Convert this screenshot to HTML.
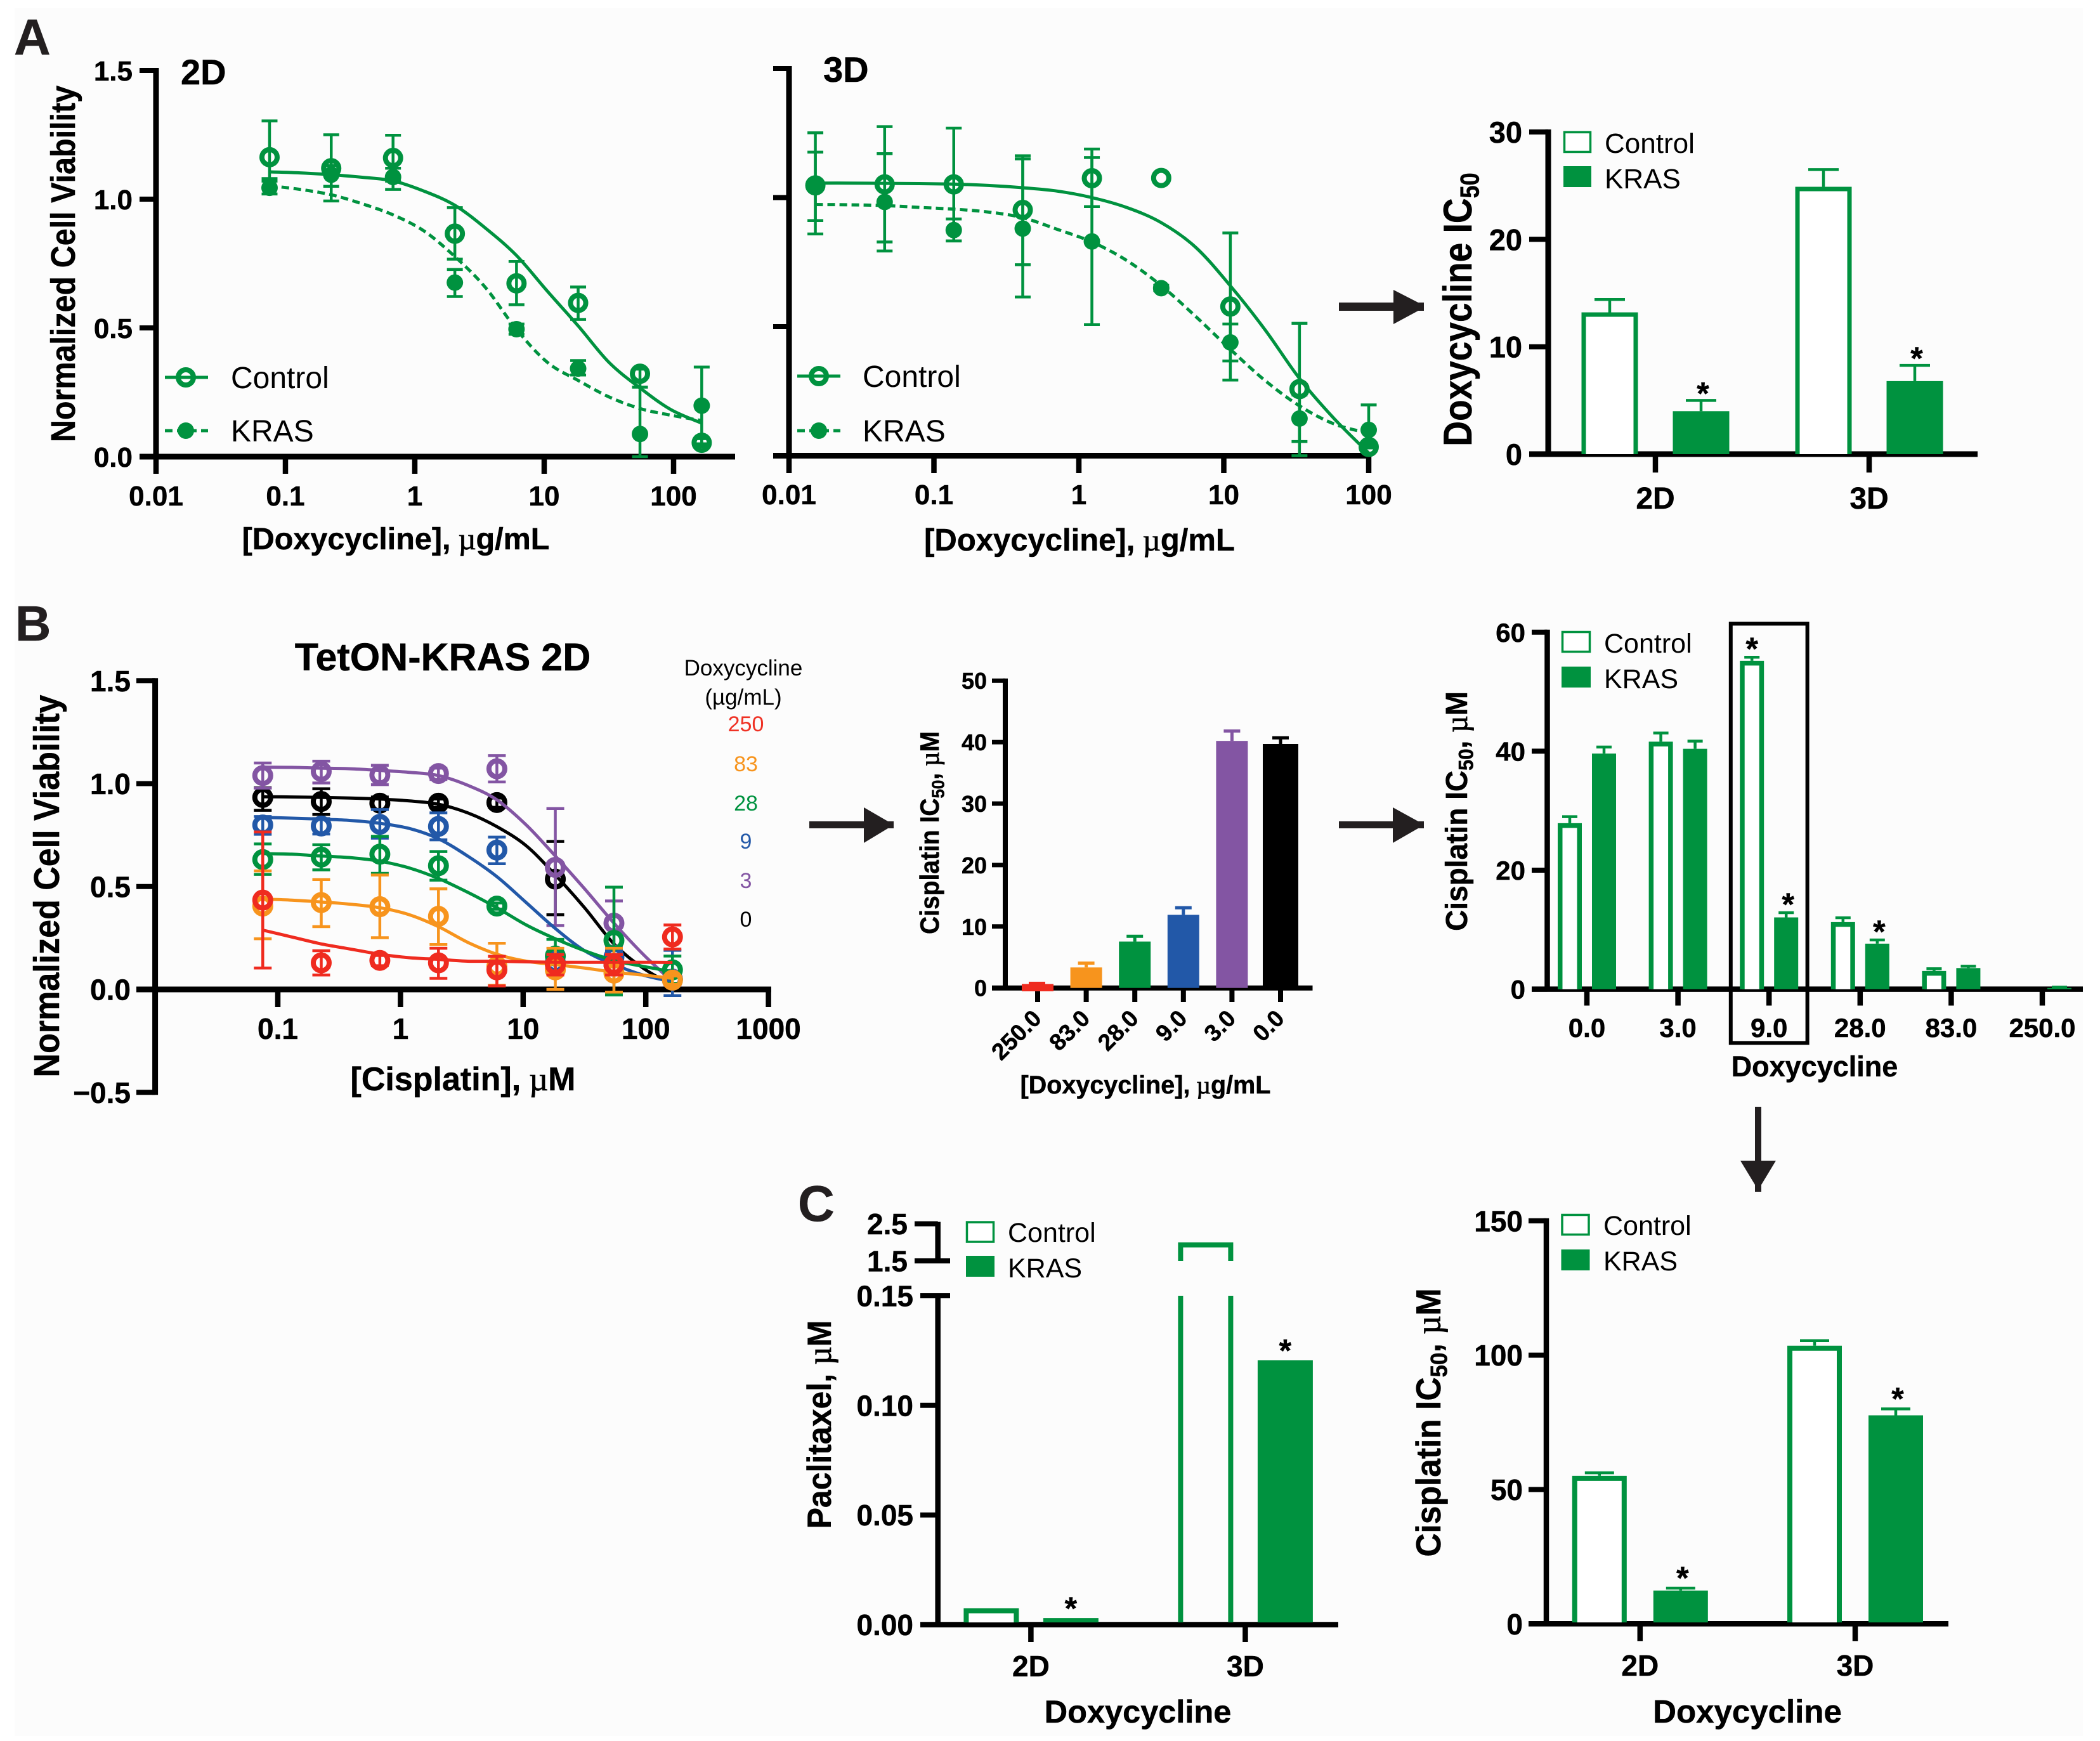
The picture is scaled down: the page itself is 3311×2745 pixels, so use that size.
<!DOCTYPE html>
<html lang="en">
<head>
<meta charset="utf-8">
<title>Doxycycline and cisplatin response figure</title>
<style>
html,body{margin:0;padding:0;background:#fff;}
svg{display:block;}
text{font-family:"Liberation Sans",sans-serif;fill:#000;}
.b{font-weight:bold;stroke:#000;stroke-width:.5px;}
.mu{font-family:"Liberation Serif",serif;font-weight:normal;stroke-width:.8px;}
</style>
</head>
<body>
<svg id="figure" xmlns="http://www.w3.org/2000/svg" width="3311" height="2745" viewBox="0 0 3311 2745">
<rect x="23" y="13" width="3261" height="2724" fill="#fcfcfc"/>

<!-- panel letters -->
<text class="b" x="22" y="86" font-size="80" style="fill:#231f20;stroke:#231f20">A</text>
<text class="b" x="24" y="1010" font-size="78" style="fill:#231f20;stroke:#231f20">B</text>
<text class="b" x="1258" y="1925" font-size="80" style="fill:#231f20;stroke:#231f20">C</text>

<!-- panel A 2D static text -->
<text class="b" x="285" y="133" font-size="56">2D</text>
<text class="b" transform="translate(118,416) rotate(-90) scale(1,1.1)" text-anchor="middle" font-size="48.5">Normalized Cell Viability</text>
<text class="b" x="624" y="866" text-anchor="middle" font-size="48.5">[Doxycycline],<tspan class="mu"> µ</tspan>g/mL</text>
<g>
  <line x1="260" x2="328" y1="595" y2="595" stroke="#00923f" stroke-width="5"/>
  <circle cx="293" cy="595" r="12" fill="none" stroke="#00923f" stroke-width="8"/>
  <text x="364" y="612" font-size="48">Control</text>
  <line x1="260" x2="328" y1="679" y2="679" stroke="#00923f" stroke-width="5" stroke-dasharray="12 7"/>
  <circle cx="293" cy="679" r="13" fill="#00923f"/>
  <text x="364" y="696" font-size="48">KRAS</text>
</g>

<!-- panel A 3D static text -->
<text class="b" x="1298" y="129" font-size="56">3D</text>
<text class="b" x="1702" y="868" text-anchor="middle" font-size="49">[Doxycycline],<tspan class="mu"> µ</tspan>g/mL</text>
<g>
  <line x1="1257" x2="1325" y1="593" y2="593" stroke="#00923f" stroke-width="5"/>
  <circle cx="1291" cy="593" r="12" fill="none" stroke="#00923f" stroke-width="8"/>
  <text x="1360" y="610" font-size="48">Control</text>
  <line x1="1257" x2="1325" y1="679" y2="679" stroke="#00923f" stroke-width="5" stroke-dasharray="12 7"/>
  <circle cx="1291" cy="679" r="13" fill="#00923f"/>
  <text x="1360" y="696" font-size="48">KRAS</text>
</g>

<!-- panel A bar static text -->
<text class="b" transform="translate(2320,488) rotate(-90) scale(1,1.15)" text-anchor="middle" font-size="55">Doxycycline IC<tspan font-size="36" dy="10">50</tspan></text>
<g>
  <rect x="2466.5" y="208.5" width="41" height="31" fill="#fff" stroke="#00923f" stroke-width="3.5"/>
  <text x="2530" y="241" font-size="44">Control</text>
  <rect x="2465" y="262" width="44" height="33" fill="#00923f"/>
  <text x="2530" y="297" font-size="44">KRAS</text>
</g>

<!-- panel B curve static text -->
<text class="b" x="698" y="1057" text-anchor="middle" font-size="61">TetON-KRAS 2D</text>
<text class="b" transform="translate(93,1397) rotate(-90) scale(1,1.08)" text-anchor="middle" font-size="52">Normalized Cell Viability</text>
<text class="b" x="730" y="1719" text-anchor="middle" font-size="52">[Cisplatin],<tspan class="mu"> µ</tspan>M</text>
<g>
  <text x="1172" y="1065" text-anchor="middle" font-size="35">Doxycycline</text>
  <text x="1172" y="1111" text-anchor="middle" font-size="35">(µg/mL)</text>
  <text x="1176" y="1153" text-anchor="middle" font-size="34" style="fill:#ef3124">250</text>
  <text x="1176" y="1216" text-anchor="middle" font-size="34" style="fill:#f7941d">83</text>
  <text x="1176" y="1278" text-anchor="middle" font-size="34" style="fill:#00923f">28</text>
  <text x="1176" y="1338" text-anchor="middle" font-size="34" style="fill:#2258a8">9</text>
  <text x="1176" y="1400" text-anchor="middle" font-size="34" style="fill:#8355a3">3</text>
  <text x="1176" y="1461" text-anchor="middle" font-size="34">0</text>
</g>

<!-- panel B middle bar static text -->
<text class="b" transform="translate(1480,1313) rotate(-90) scale(1,1.08)" text-anchor="middle" font-size="39">Cisplatin IC<tspan font-size="26" dy="8">50</tspan><tspan dy="-8">, </tspan><tspan class="mu">µ</tspan>M</text>
<text class="b" x="1806" y="1724" text-anchor="middle" font-size="39.5">[Doxycycline],<tspan class="mu"> µ</tspan>g/mL</text>

<!-- panel B right bar static text -->
<text class="b" transform="translate(2313,1279) rotate(-90) scale(1,1.05)" text-anchor="middle" font-size="46">Cisplatin IC<tspan font-size="31" dy="9">50</tspan><tspan dy="-9">, </tspan><tspan class="mu">µ</tspan>M</text>
<text class="b" x="2861" y="1697" text-anchor="middle" font-size="45">Doxycycline</text>
<g>
  <rect x="2463.5" y="996.5" width="43" height="31" fill="#fff" stroke="#00923f" stroke-width="3.5"/>
  <text x="2529" y="1029" font-size="43">Control</text>
  <rect x="2462" y="1051" width="46" height="33" fill="#00923f"/>
  <text x="2529" y="1085" font-size="43">KRAS</text>
</g>
<rect x="2728.8" y="983.4" width="120.8" height="661" fill="none" stroke="#000" stroke-width="6"/>

<!-- panel C paclitaxel static text -->
<text class="b" transform="translate(1310,2246) rotate(-90) scale(1,1.05)" text-anchor="middle" font-size="50">Paclitaxel, <tspan class="mu">µ</tspan>M</text>
<text class="b" x="1794" y="2716" text-anchor="middle" font-size="50.5">Doxycycline</text>
<g>
  <rect x="1524.5" y="1927" width="42" height="31" fill="#fff" stroke="#00923f" stroke-width="3.5"/>
  <text x="1589" y="1958" font-size="43">Control</text>
  <rect x="1523" y="1980" width="45" height="33" fill="#00923f"/>
  <text x="1589" y="2014" font-size="43">KRAS</text>
</g>

<!-- panel C cisplatin static text -->
<text class="b" transform="translate(2271,2243) rotate(-90) scale(1,1.06)" text-anchor="middle" font-size="51.5">Cisplatin IC<tspan font-size="35" dy="10">50</tspan><tspan dy="-10">, </tspan><tspan class="mu">µ</tspan>M</text>
<text class="b" x="2755" y="2716" text-anchor="middle" font-size="51">Doxycycline</text>
<g>
  <rect x="2463" y="1915.5" width="42" height="31" fill="#fff" stroke="#00923f" stroke-width="3.5"/>
  <text x="2528" y="1947" font-size="43">Control</text>
  <rect x="2461.5" y="1970" width="45" height="33" fill="#00923f"/>
  <text x="2528" y="2003" font-size="43">KRAS</text>
</g>

<!-- flow arrows -->
<g><polygon points="2111,477 2197,477 2197,457 2236,477 2245,477 2245,490 2236,490 2197,511 2197,490 2111,490" fill="#231f20"/></g>
<g><polygon points="1276,1295 1362,1295 1362,1273 1400,1295 1409,1295 1409,1306 1400,1306 1362,1329 1362,1306 1276,1306" fill="#231f20"/></g>
<g><polygon points="2111,1295 2196,1295 2196,1273 2236,1295 2245,1295 2245,1306 2236,1306 2196,1329 2196,1306 2111,1306" fill="#231f20"/></g>
<g><polygon points="2767,1745 2777,1745 2777,1830 2800,1830 2777,1868 2777,1879 2767,1879 2767,1868 2744,1830 2767,1830" fill="#231f20"/></g>

<g id="charts"></g>
</svg>

<script>
/* ---------- Panel A, 2D ---------- */
const a2dDoses = [0.0754, 0.226, 0.679, 2.04, 6.11, 18.3, 55, 165];
const a2dControl = [1.163, 1.12, 1.16, 0.866, 0.673, 0.597, 0.322, 0.054];
const a2dControlHi = [1.304, 1.25, 1.248, 0.967, 0.758, 0.659, 0.34, 0.07];
const a2dControlLo = [1.08, 0.993, 1.07, 0.767, 0.59, 0.533, 0.27, 0.04];
const a2dKras = [1.044, 1.095, 1.086, 0.676, 0.495, 0.342, 0.088, 0.198];
const a2dKrasHi = [1.07, 1.13, 1.12, 0.727, 0.515, 0.373, 0.27, 0.348];
const a2dKrasLo = [1.02, 1.05, 1.038, 0.622, 0.475, 0.317, 0, 0.05];
const a2dCurveDoses = [0.0754, 0.13, 0.226, 0.392, 0.679, 1.18, 2.04, 3.53, 6.11, 10.6, 18.3, 31.7, 55, 95, 165];
const a2dControlCurve = [1.106, 1.102, 1.095, 1.085, 1.071, 1.031, 0.976, 0.887, 0.781, 0.642, 0.508, 0.366, 0.267, 0.183, 0.13];
const a2dKrasCurve = [1.052, 1.038, 1.017, 0.982, 0.939, 0.876, 0.777, 0.656, 0.494, 0.366, 0.296, 0.232, 0.187, 0.161, 0.14];
const a2dYTicks = [0, 0.5, 1, 1.5];
const a2dYLabels = ['0.0', '0.5', '1.0', '1.5'];
const a2dXTicks = [0.01, 0.1, 1, 10, 100];
const a2dXLabels = ['0.01', '0.1', '1', '10', '100'];

/* ---------- Panel A, 3D ---------- */
const a3dDoses = [0.0152, 0.0457, 0.137, 0.41, 1.23, 3.7, 11.1, 33.3, 100];
const a3dControl = [1.047, 1.051, 1.051, 0.952, 1.075, 1.076, 0.578, 0.258, 0.034];
const a3dControlHi = [1.251, 1.275, 1.269, 1.162, 1.188, 1.076, 0.863, 0.513, 0.04];
const a3dControlLo = [0.859, 0.828, 0.832, 0.74, 0.965, 1.076, 0.293, 0, 0.03];
const a3dKras = [1.044, 0.983, 0.874, 0.88, 0.83, 0.649, 0.439, 0.144, 0.1];
const a3dKrasHi = [1.176, 1.17, 0.917, 1.15, 1.155, 0.66, 0.51, 0.235, 0.197];
const a3dKrasLo = [0.911, 0.793, 0.832, 0.615, 0.508, 0.64, 0.367, 0.055, 0.05];
const a3dCurveDoses = [0.0152, 0.0263, 0.0457, 0.0791, 0.137, 0.237, 0.41, 0.71, 1.23, 2.13, 3.7, 6.41, 11.1, 19.2, 33.3, 57.7, 100];
const a3dControlCurve = [1.056, 1.056, 1.055, 1.054, 1.052, 1.047, 1.038, 1.025, 1, 0.962, 0.903, 0.807, 0.658, 0.489, 0.299, 0.144, 0.01];
const a3dKrasCurve = [0.973, 0.972, 0.969, 0.962, 0.955, 0.944, 0.922, 0.877, 0.828, 0.757, 0.659, 0.539, 0.412, 0.292, 0.193, 0.123, 0.087];
const a3dYTicks = [0, 0.5, 1, 1.5];
const a3dXTicks = [0.01, 0.1, 1, 10, 100];
const a3dXLabels = ['0.01', '0.1', '1', '10', '100'];

/* ---------- Panel A, IC50 bars ---------- */
const aBarCategories = ['2D', '3D'];
const aBarControl = [13.2, 24.9];
const aBarControlErr = [14.4, 26.5];
const aBarKras = [4.0, 6.8];
const aBarKrasErr = [5.0, 8.26];
const aBarStars = [true, true];
const aBarYTicks = [0, 10, 20, 30];

/* ---------- Panel B, cisplatin curves ---------- */
const bDoses = [0.0754, 0.226, 0.679, 2.04, 6.11, 18.3, 55, 165];
const bCurveDoses = [0.0754, 0.13, 0.226, 0.392, 0.679, 1.18, 2.04, 3.53, 6.11, 10.6, 18.3, 31.7, 55, 95, 165];
const bDox0 = [0.933, 0.913, 0.905, 0.905, 0.908, 0.536, 0.12, 0.05];
const bDox0Hi = [0.98, 0.975, 0.935, 0.925, 0.93, 0.719, 0.16, 0.07];
const bDox0Lo = [0.87, 0.85, 0.875, 0.885, 0.885, 0.363, 0.08, 0.03];
const bDox0Curve = [0.936, 0.935, 0.933, 0.93, 0.925, 0.916, 0.9, 0.858, 0.791, 0.698, 0.556, 0.397, 0.221, 0.104, 0.02];
const bDox3 = [1.039, 1.059, 1.042, 1.049, 1.072, 0.593, 0.322, 0.05];
const bDox3Hi = [1.1, 1.109, 1.089, 1.075, 1.136, 0.879, 0.43, 0.08];
const bDox3Lo = [0.978, 1.003, 0.995, 1.02, 1.008, 0.31, 0.21, 0.02];
const bDox3Curve = [1.08, 1.079, 1.075, 1.072, 1.064, 1.055, 1.039, 0.992, 0.921, 0.799, 0.648, 0.489, 0.322, 0.171, 0.037];
const bDox9 = [0.799, 0.794, 0.802, 0.792, 0.677, 0.13, 0.157, 0.045];
const bDox9Hi = [0.84, 0.83, 0.874, 0.858, 0.74, 0.18, 0.19, 0.19];
const bDox9Lo = [0.754, 0.755, 0.735, 0.727, 0.611, 0.08, 0.12, -0.03];
const bDox9Curve = [0.836, 0.832, 0.827, 0.821, 0.807, 0.782, 0.732, 0.648, 0.548, 0.422, 0.296, 0.188, 0.121, 0.07, 0.037];
const bDox28 = [0.631, 0.643, 0.657, 0.601, 0.405, 0.162, 0.238, 0.095];
const bDox28Hi = [0.707, 0.703, 0.744, 0.67, 0.42, 0.243, 0.497, 0.162];
const bDox28Lo = [0.559, 0.581, 0.564, 0.531, 0.39, 0.087, -0.027, 0.03];
const bDox28Curve = [0.66, 0.657, 0.648, 0.64, 0.623, 0.59, 0.539, 0.472, 0.397, 0.313, 0.246, 0.188, 0.141, 0.112, 0.087];
const bDox83 = [0.405, 0.422, 0.402, 0.355, 0.112, 0.095, 0.079, 0.045];
const bDox83Hi = [0.576, 0.534, 0.556, 0.489, 0.224, 0.2, 0.2, 0.065];
const bDox83Lo = [0.246, 0.305, 0.251, 0.218, 0.02, 0, -0.013, 0.025];
const bDox83Curve = [0.439, 0.434, 0.425, 0.414, 0.397, 0.363, 0.305, 0.229, 0.171, 0.137, 0.121, 0.104, 0.084, 0.07, 0.054];
const bDox250 = [0.434, 0.129, 0.141, 0.129, 0.095, 0.121, 0.121, 0.255];
const bDox250Hi = [0.765, 0.188, 0.165, 0.2, 0.161, 0.17, 0.17, 0.313];
const bDox250Lo = [0.104, 0.07, 0.115, 0.054, 0.017, 0.07, 0.07, 0.196];
const bDox250Curve = [0.288, 0.255, 0.221, 0.196, 0.171, 0.154, 0.146, 0.137, 0.137, 0.134, 0.132, 0.132, 0.132, 0.132, 0.131];
const bYTicks = [-0.5, 0, 0.5, 1, 1.5];
const bYLabels = ['\u22120.5', '0.0', '0.5', '1.0', '1.5'];
const bXTicks = [0.1, 1, 10, 100, 1000];
const bXLabels = ['0.1', '1', '10', '100', '1000'];

/* ---------- Panel B, middle bars ---------- */
const bMidCategories = ['250.0', '83.0', '28.0', '9.0', '3.0', '0.0'];
const bMidValues = [0.65, 3.34, 7.55, 11.9, 40.2, 39.7];
const bMidErr = [0.75, 4.05, 8.4, 13.05, 41.8, 40.7];
const bMidYTicks = [0, 10, 20, 30, 40, 50];

/* ---------- Panel B, right bars ---------- */
const bRightCategories = ['0.0', '3.0', '9.0', '28.0', '83.0', '250.0'];
const bRightControl = [27.9, 41.6, 55.2, 11.27, 3.06, 0];
const bRightControlErr = [29.0, 43.05, 55.8, 12.0, 3.43, 0];
const bRightKras = [39.6, 40.4, 12.06, 7.65, 3.55, 0.2];
const bRightKrasErr = [40.7, 41.7, 12.86, 8.27, 3.86, 0.35];
const bRightControlStars = [false, false, true, false, false, false];
const bRightKrasStars = [false, false, true, true, false, false];
const bRightYTicks = [0, 20, 40, 60];

/* ---------- Panel C, paclitaxel bars (broken axis) ---------- */
const cPacCategories = ['2D', '3D'];
const cPacControl = [0.0075, 2.0];
const cPacKras = [0.003, 0.1206];
const cPacStars = [true, true];
const cPacLowerTicks = [0, 0.05, 0.1, 0.15];
const cPacLowerLabels = ['0.00', '0.05', '0.10', '0.15'];
const cPacUpperTicks = [1.5, 2.5];
const cPacUpperLabels = ['1.5', '2.5'];

/* ---------- Panel C, cisplatin bars ---------- */
const cCisCategories = ['2D', '3D'];
const cCisControl = [55.1, 103.5];
const cCisControlErr = [56.2, 105.4];
const cCisKras = [12.4, 77.6];
const cCisKrasErr = [13.3, 80];
const cCisStars = [true, true];
const cCisYTicks = [0, 50, 100, 150];

/* ---------- helpers ---------- */
const SVGNS = 'http://www.w3.org/2000/svg';
const GREEN = '#00923f';
const root = document.getElementById('charts');

function mk(tag, parent, props) {
  const el = document.createElementNS(SVGNS, tag);
  for (const k in props) el.setAttribute(k, props[k]);
  parent.appendChild(el);
  return el;
}
function logScale(x0, logStart, decade) {
  return function (d) { return x0 + (Math.log10(d) - logStart) * decade; };
}
function linScale(y0, k) {
  return function (v) { return y0 - v * k; };
}
function smoothPath(px, py) {
  let d = 'M' + px[0].toFixed(1) + ',' + py[0].toFixed(1);
  for (let i = 0; i < px.length - 1; i++) {
    const a = Math.max(i - 1, 0), b = Math.min(i + 2, px.length - 1);
    const c1x = px[i] + (px[i + 1] - px[a]) / 6, c1y = py[i] + (py[i + 1] - py[a]) / 6;
    const c2x = px[i + 1] - (px[b] - px[i]) / 6, c2y = py[i + 1] - (py[b] - py[i]) / 6;
    d += 'C' + c1x.toFixed(1) + ',' + c1y.toFixed(1) + ' ' + c2x.toFixed(1) + ',' + c2y.toFixed(1) + ' ' + px[i + 1].toFixed(1) + ',' + py[i + 1].toFixed(1);
  }
  return d;
}
function group(name) {
  const g = mk('g', root, {});
  
  
  return g;
}
function axisLine(g, name, x1, y1, x2, y2, sw) {
  const l = mk('line', g, { x1: x1, y1: y1, x2: x2, y2: y2, stroke: '#000', 'stroke-width': sw });
  
  
  return l;
}
function label(g, name, x, y, str, size, anchor) {
  const t = mk('text', g, { x: x, y: y, 'font-size': size, 'text-anchor': anchor, 'class': 'b' });
  t.textContent = str;
  
  
  return t;
}
function yAxis(g, prefix, axisX, yf, ticks, labels, tickLeft, labelRight, size, sw) {
  for (let i = 0; i < ticks.length; i++) {
    const y = yf(ticks[i]);
    axisLine(g, prefix + '-y-tick-' + i, tickLeft, y, axisX, y, sw);
    if (labels) label(g, prefix + '-y-tick-label-' + i, labelRight, y + size * 0.36, labels[i], size, 'end');
  }
}
function xTicksLog(g, prefix, xf, ticks, labels, y0, tickBottom, baseline, size, sw) {
  for (let i = 0; i < ticks.length; i++) {
    const x = xf(ticks[i]);
    axisLine(g, prefix + '-x-tick-' + i, x, y0, x, tickBottom, sw);
    label(g, prefix + '-x-tick-label-' + i, x, baseline, labels[i], size, 'middle');
  }
}
function drawSeries(g, prefix, doses, vals, hi, lo, curveDoses, curve, xf, yf, color, filled, dashed, r, mw, cap) {
  const d = smoothPath(curveDoses.map(xf), curve.map(yf));
  const props = { d: d, fill: 'none', stroke: color, 'stroke-width': 5 };
  if (dashed) props['stroke-dasharray'] = '12 7';
  const path = mk('path', g, props);
  
  
  for (let i = 0; i < doses.length; i++) {
    const x = xf(doses[i]);
    if (hi[i] - lo[i] > 0.001) {
      const stem = mk('line', g, { x1: x, x2: x, y1: yf(hi[i]), y2: yf(lo[i]), stroke: color, 'stroke-width': 4.5 });
      
      
      const capTop = mk('line', g, { x1: x - cap / 2, x2: x + cap / 2, y1: yf(hi[i]), y2: yf(hi[i]), stroke: color, 'stroke-width': 4.5 });
      
      
      const capBot = mk('line', g, { x1: x - cap / 2, x2: x + cap / 2, y1: yf(lo[i]), y2: yf(lo[i]), stroke: color, 'stroke-width': 4.5 });
      
      
    }
  }
  for (let i = 0; i < doses.length; i++) {
    const m = mk('circle', g, filled
      ? { cx: xf(doses[i]), cy: yf(vals[i]), r: r, fill: color }
      : { cx: xf(doses[i]), cy: yf(vals[i]), r: r, fill: 'none', stroke: color, 'stroke-width': mw });
    
    
  }
}
function drawBar(g, name, left, width, y0, yTop, color, open, sw) {
  if (open) {
    const p = mk('path', g, {
      d: 'M' + (left + sw / 2) + ',' + y0 + 'V' + (yTop + sw / 2) + 'H' + (left + width - sw / 2) + 'V' + y0,
      fill: '#fff', stroke: color, 'stroke-width': sw
    });
    
    
  } else {
    const r = mk('rect', g, { x: left, y: yTop, width: width, height: Math.max(y0 - yTop, 0), fill: color });
    
    
  }
}
function drawErr(g, name, cx, yTop, yErr, cap, color, sw) {
  const s = mk('line', g, { x1: cx, x2: cx, y1: yTop, y2: yErr, stroke: color, 'stroke-width': sw });
  
  
  const c = mk('line', g, { x1: cx - cap / 2, x2: cx + cap / 2, y1: yErr, y2: yErr, stroke: color, 'stroke-width': sw });
  
  
}
function star(g, name, cx, yCenter) {
  const t = mk('text', g, { x: cx, y: yCenter + 24, 'font-size': 50, 'text-anchor': 'middle', 'class': 'b' });
  t.textContent = '*';
  
  
}

/* ---------- Panel A 2D ---------- */
(function () {
  const g = group('a2d-chart');
  const xf = logScale(246, -2, 204);
  const yf = linScale(720, 406);
  axisLine(g, 'a2d-y-axis', 246, yf(1.5) - 4, 246, 724, 9);
  axisLine(g, 'a2d-x-axis', 220, 720, 1159, 720, 9);
  yAxis(g, 'a2d', 246, yf, a2dYTicks, a2dYLabels, 220, 209, 44, 8);
  xTicksLog(g, 'a2d', xf, a2dXTicks, a2dXLabels, 720, 747, 797, 44, 8.5);
  drawSeries(g, 'a2d-control', a2dDoses, a2dControl, a2dControlHi, a2dControlLo, a2dCurveDoses, a2dControlCurve, xf, yf, GREEN, false, false, 12, 8, 25);
  drawSeries(g, 'a2d-kras', a2dDoses, a2dKras, a2dKrasHi, a2dKrasLo, a2dCurveDoses, a2dKrasCurve, xf, yf, GREEN, true, true, 13, 0, 25);
})();

/* ---------- Panel A 3D ---------- */
(function () {
  const g = group('a3d-chart');
  const xf = logScale(1244, -2, 228.5);
  const yf = linScale(718.5, 407);
  axisLine(g, 'a3d-y-axis', 1244, yf(1.5) - 4, 1244, 722, 9);
  axisLine(g, 'a3d-x-axis', 1219, 718.5, 2162, 718.5, 9);
  yAxis(g, 'a3d', 1244, yf, a3dYTicks, null, 1219, 0, 44, 8);
  xTicksLog(g, 'a3d', xf, a3dXTicks, a3dXLabels, 718.5, 746, 795, 44, 8.5);
  drawSeries(g, 'a3d-control', a3dDoses, a3dControl, a3dControlHi, a3dControlLo, a3dCurveDoses, a3dControlCurve, xf, yf, GREEN, false, false, 12, 8, 25);
  drawSeries(g, 'a3d-kras', a3dDoses, a3dKras, a3dKrasHi, a3dKrasLo, a3dCurveDoses, a3dKrasCurve, xf, yf, GREEN, true, true, 13, 0, 25);
})();

/* ---------- Paired bar chart used by three panels ---------- */
function pairedBars(cfg, categories, control, controlErr, kras, krasErr, controlStars, krasStars) {
  const g = cfg.g;
  for (let i = 0; i < categories.length; i++) {
    const cx = cfg.first + i * cfg.step;
    const x = cx;
    axisLine(g, cfg.prefix + '-x-tick-' + i, x, cfg.y0, x, cfg.tickBottom, 8.5);
    label(g, cfg.prefix + '-x-tick-label-' + i, x, cfg.labelBaseline, categories[i], cfg.labelSize, 'middle');
    const cCenter = cx - cfg.offset, kCenter = cx + cfg.offset;
    if (control[i] > 0) {
      drawErr(g, cfg.prefix + '-control-error-' + i, cCenter, cfg.yf(control[i]), cfg.yf(controlErr[i]), cfg.cap, GREEN, 4.5);
      drawBar(g, cfg.prefix + '-control-bar-' + categories[i], cCenter - cfg.width / 2, cfg.width, cfg.y0, cfg.yf(control[i]), GREEN, true, cfg.sw);
    }
    drawErr(g, cfg.prefix + '-kras-error-' + i, kCenter, cfg.yf(kras[i]), cfg.yf(krasErr[i]), cfg.cap, GREEN, 4.5);
    drawBar(g, cfg.prefix + '-kras-bar-' + categories[i], kCenter - cfg.width / 2, cfg.width, cfg.y0, cfg.yf(kras[i]), GREEN, false, 0);
    if (controlStars && controlStars[i]) star(g, cfg.prefix + '-control-star-' + i, cCenter, cfg.yf(controlErr[i]) - cfg.starGap);
    if (krasStars && krasStars[i]) star(g, cfg.prefix + '-kras-star-' + i, kCenter + 3, cfg.yf(krasErr[i]) - cfg.starGap);
  }
}

/* ---------- Panel A bars ---------- */
(function () {
  const g = group('a-bar-chart');
  const yf = linScale(716, 16.93);
  axisLine(g, 'a-bar-y-axis', 2441, yf(30) - 4, 2441, 720, 9);
  axisLine(g, 'a-bar-x-axis', 2411, 716, 3118, 716, 9);
  yAxis(g, 'a-bar', 2441, yf, aBarYTicks, aBarYTicks.map(String), 2411, 2400, 47, 8);
  pairedBars({ g: g, prefix: 'a-bar', first: 2610, step: 337, y0: 716, yf: yf, tickBottom: 745, labelBaseline: 802, labelSize: 48, offset: 72, width: 89, sw: 7, cap: 48, starGap: 18 },
    aBarCategories, aBarControl, aBarControlErr, aBarKras, aBarKrasErr, null, aBarStars);
})();

/* ---------- Panel B curves ---------- */
(function () {
  const g = group('b-curve-chart');
  const xf = logScale(244.6, -2, 193.4);
  const yf = linScale(1560, 324.5);
  axisLine(g, 'b-curve-y-axis', 244.6, yf(1.5) - 4, 244.6, yf(-0.5) + 4, 9);
  axisLine(g, 'b-curve-x-axis', 215, 1560, 1216, 1560, 9);
  yAxis(g, 'b-curve', 244.6, yf, bYTicks, bYLabels, 215, 206, 46, 8);
  xTicksLog(g, 'b-curve', xf, bXTicks, bXLabels, 1560, 1588, 1638, 46, 8.5);
  drawSeries(g, 'b-dox-0', bDoses, bDox0, bDox0Hi, bDox0Lo, bCurveDoses, bDox0Curve, xf, yf, '#000', false, false, 12.5, 8, 28);
  drawSeries(g, 'b-dox-3', bDoses, bDox3, bDox3Hi, bDox3Lo, bCurveDoses, bDox3Curve, xf, yf, '#8355a3', false, false, 12.5, 8, 28);
  drawSeries(g, 'b-dox-9', bDoses, bDox9, bDox9Hi, bDox9Lo, bCurveDoses, bDox9Curve, xf, yf, '#2258a8', false, false, 12.5, 8, 28);
  drawSeries(g, 'b-dox-28', bDoses, bDox28, bDox28Hi, bDox28Lo, bCurveDoses, bDox28Curve, xf, yf, GREEN, false, false, 12.5, 8, 28);
  drawSeries(g, 'b-dox-83', bDoses, bDox83, bDox83Hi, bDox83Lo, bCurveDoses, bDox83Curve, xf, yf, '#f7941d', false, false, 12.5, 8, 28);
  drawSeries(g, 'b-dox-250', bDoses, bDox250, bDox250Hi, bDox250Lo, bCurveDoses, bDox250Curve, xf, yf, '#ef2b1f', false, false, 12.5, 8, 28);
})();

/* ---------- Panel B middle bars ---------- */
(function () {
  const g = group('b-mid-chart');
  const colors = ['#ef2b1f', '#f7941d', GREEN, '#2258a8', '#8355a3', '#000'];
  const yf = linScale(1557.7, 9.69);
  axisLine(g, 'b-mid-y-axis', 1585, yf(50) - 3.5, 1585, 1561, 8);
  axisLine(g, 'b-mid-x-axis', 1564, 1557.7, 2069.5, 1557.7, 8);
  yAxis(g, 'b-mid', 1585, yf, bMidYTicks, bMidYTicks.map(String), 1564, 1556, 36, 7);
  for (let i = 0; i < bMidCategories.length; i++) {
    const cx = 1636 + i * 76.6;
    axisLine(g, 'b-mid-x-tick-' + i, cx, 1557.7, cx, 1580, 8);
    const t = label(g, 'b-mid-x-tick-label-' + bMidCategories[i], 0, 0, bMidCategories[i], 37, 'end');
    t.setAttribute('transform', 'translate(' + (cx + 8) + ',1608) rotate(-45)');
    const w = i === 5 ? 56 : 50;
    drawErr(g, 'b-mid-error-' + i, cx + (i === 0 ? -1 : 0), yf(bMidValues[i]), yf(bMidErr[i]), 26, colors[i], 5);
    const bottom = i === 0 ? 1563 : 1557.7;
    drawBar(g, 'b-mid-bar-' + bMidCategories[i], cx - w / 2, w, bottom, yf(bMidValues[i]), colors[i], false, 0);
  }
})();

/* ---------- Panel B right bars ---------- */
(function () {
  const g = group('b-right-chart');
  const yf = linScale(1559.6, 9.38);
  axisLine(g, 'b-right-y-axis', 2439.5, yf(60) - 4, 2439.5, 1563, 8.5);
  axisLine(g, 'b-right-x-axis', 2415, 1559.6, 3284, 1559.6, 8.5);
  yAxis(g, 'b-right', 2439.5, yf, bRightYTicks, bRightYTicks.map(String), 2415, 2405, 42, 8);
  pairedBars({ g: g, prefix: 'b-right', first: 2502, step: 143.6, y0: 1559.6, yf: yf, tickBottom: 1585.5, labelBaseline: 1635, labelSize: 42, offset: 27, width: 38, sw: 7.5, cap: 24, starGap: 20 },
    bRightCategories, bRightControl, bRightControlErr, bRightKras, bRightKrasErr, bRightControlStars, bRightKrasStars);
})();

/* ---------- Panel C paclitaxel ---------- */
(function () {
  const g = group('c-pac-chart');
  const yLow = linScale(2561.5, 3457);
  const yUp = function (v) { return 1988 - (v - 1.5) * 58.5; };
  const axisX = 1478.7;
  const breakVal = 0.15;
  axisLine(g, 'c-pac-y-axis-lower', axisX, yLow(breakVal) - 3, axisX, 2565, 8.5);
  axisLine(g, 'c-pac-y-axis-upper', axisX, yUp(2.5) - 3, axisX, yUp(1.5) + 3, 8.5);
  axisLine(g, 'c-pac-x-axis', 1451, 2561.5, 2110, 2561.5, 8.5);
  yAxis(g, 'c-pac', axisX, yLow, cPacLowerTicks, cPacLowerLabels, 1451, 1440, 46, 8);
  yAxis(g, 'c-pac-upper', axisX, yUp, cPacUpperTicks, cPacUpperLabels, 1442, 1431, 46, 8);
  axisLine(g, 'c-pac-break-tick-lower', 1460, yLow(breakVal), 1498, yLow(breakVal), 8);
  axisLine(g, 'c-pac-break-tick-upper', 1460, yUp(1.5), 1498, yUp(1.5), 8);
  const sw = 8, w = 87;
  for (let i = 0; i < cPacCategories.length; i++) {
    const cx = 1625.4 + i * 338;
    axisLine(g, 'c-pac-x-tick-' + i, cx, 2561.5, cx, 2589, 8.5);
    label(g, 'c-pac-x-tick-label-' + i, cx, 2643, cPacCategories[i], 46, 'middle');
    const cCenter = cx - 62.5, kCenter = cx + 63;
    if (cPacControl[i] > breakVal) {
      const left = cCenter - w / 2 + sw / 2, right = cCenter + w / 2 - sw / 2;
      const lowPart = mk('path', g, {
        d: 'M' + left + ',2558V' + yLow(breakVal) + 'M' + right + ',' + yLow(breakVal) + 'V2558',
        fill: 'none', stroke: GREEN, 'stroke-width': sw
      });
      
      
      const upPart = mk('path', g, {
        d: 'M' + left + ',' + yUp(1.5) + 'V' + (yUp(cPacControl[i]) + sw / 2) + 'H' + right + 'V' + yUp(1.5),
        fill: 'none', stroke: GREEN, 'stroke-width': sw
      });
      
      
    } else {
      drawBar(g, 'c-pac-control-bar-' + cPacCategories[i], cCenter - w / 2, w, 2558, yLow(cPacControl[i]), GREEN, true, sw);
    }
    drawBar(g, 'c-pac-kras-bar-' + cPacCategories[i], kCenter - w / 2, w, 2558, yLow(cPacKras[i]), GREEN, false, 0);
    if (cPacStars[i]) star(g, 'c-pac-star-' + i, kCenter, yLow(cPacKras[i]) - 22);
  }
})();

/* ---------- Panel C cisplatin ---------- */
(function () {
  const g = group('c-cis-chart');
  const yf = linScale(2560.3, 4.237);
  axisLine(g, 'c-cis-y-axis', 2438, yf(150) - 4, 2438, 2564, 8.5);
  axisLine(g, 'c-cis-x-axis', 2410, 2560.3, 3072, 2560.3, 8.5);
  yAxis(g, 'c-cis', 2438, yf, cCisYTicks, cCisYTicks.map(String), 2410, 2401, 46, 8);
  pairedBars({ g: g, prefix: 'c-cis', first: 2585.8, step: 339.2, y0: 2558, yf: yf, tickBottom: 2587.4, labelBaseline: 2642, labelSize: 46, offset: 64, width: 86, sw: 8, cap: 46, starGap: 23 },
    cCisCategories, cCisControl, cCisControlErr, cCisKras, cCisKrasErr, null, cCisStars);
})();
</script>
</body>
</html>
